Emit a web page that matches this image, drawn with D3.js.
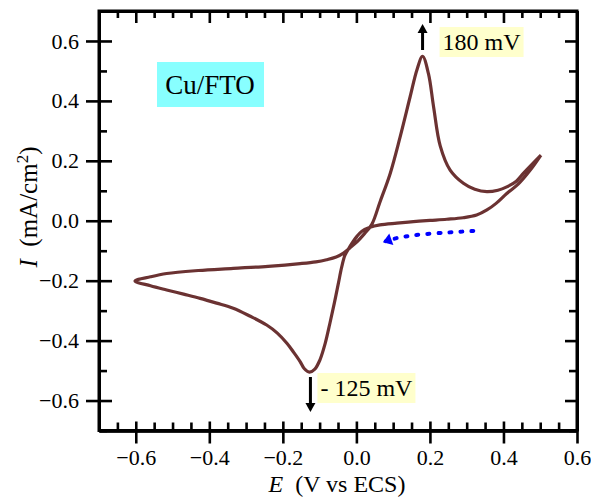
<!DOCTYPE html>
<html>
<head>
<meta charset="utf-8">
<script src="https://cdn.jsdelivr.net/npm/d3@7"></script>
<style>
  html, body { margin: 0; padding: 0; background: #fff; }
  svg { display: block; }
  text { font-family: "Liberation Serif", "Times New Roman", serif; fill: #000; }
</style>
</head>
<body>
<svg id="chart" width="591" height="503"></svg>
<script>
// ---- Data ----
// Cyclic voltammogram: potential E (V vs ECS) and current density I (mA/cm2)
const cvE = [0.502, 0.473, 0.44, 0.409, 0.38, 0.355, 0.327, 0.29, 0.246, 0.2, 0.155, 0.11, 0.064, 0.037, 0.015, 0.001,
  -0.017, -0.031, -0.04, -0.049, -0.06, -0.072, -0.085, -0.099, -0.113, -0.128, -0.142, -0.153, -0.17, -0.189,
  -0.215, -0.244, -0.29, -0.335, -0.38, -0.425, -0.47, -0.516, -0.56, -0.602,
  -0.56, -0.516, -0.43, -0.335, -0.24, -0.153, -0.11, -0.081, -0.055, -0.035, -0.015, 0.005, 0.022, 0.042,
  0.064, 0.092, 0.119, 0.146, 0.165, 0.18, 0.196, 0.21, 0.228, 0.255, 0.291, 0.322, 0.355, 0.385, 0.409, 0.435, 0.454, 0.502];
const cvI = [0.219, 0.169, 0.122, 0.091, 0.058, 0.036, 0.019, 0.01, 0.005, 0.001, -0.003, -0.008, -0.014, -0.022, -0.035, -0.053,
  -0.085, -0.115, -0.155, -0.209, -0.275, -0.342, -0.41, -0.464, -0.495, -0.505, -0.493, -0.47, -0.44, -0.409,
  -0.375, -0.348, -0.318, -0.292, -0.275, -0.259, -0.245, -0.231, -0.217, -0.201,
  -0.187, -0.176, -0.166, -0.159, -0.152, -0.143, -0.137, -0.13, -0.121, -0.108, -0.088, -0.066, -0.043, -0.012,
  0.062, 0.158, 0.28, 0.413, 0.505, 0.549, 0.491, 0.38, 0.25, 0.169, 0.125, 0.105, 0.097, 0.102, 0.113, 0.132, 0.158, 0.219];

// Peak annotations
const peakE = [0.18, -0.125];
const peakLabels = ["180 mV", "- 125 mV"];
const peakDir = ["up", "down"];

// Scan-direction arrow (dotted blue)
const scanE = [0.318, 0.29, 0.25, 0.2, 0.15, 0.11, 0.08];
const scanI = [-0.034, -0.036, -0.039, -0.043, -0.049, -0.057, -0.068];

// Axis ticks
const xMajor = [-0.6, -0.4, -0.2, 0.0, 0.2, 0.4, 0.6];
const xMinor = [-0.65, -0.55, -0.5, -0.45, -0.35, -0.3, -0.25, -0.15, -0.1, -0.05, 0.05, 0.1, 0.15, 0.25, 0.3, 0.35, 0.45, 0.5, 0.55];
const yMajor = [-0.6, -0.4, -0.2, 0.0, 0.2, 0.4, 0.6];
const yMinor = [-0.7, -0.5, -0.3, -0.1, 0.1, 0.3, 0.5, 0.7];

const sampleLabel = "Cu/FTO";

// ---- Layout ----
const L = 99, R = 577, T = 11, B = 430.5;
const x = d3.scaleLinear().domain([-0.7, 0.6]).range([L, R]);
const y = d3.scaleLinear().domain([-0.7, 0.7]).range([B, T]);
const fmt = d3.format(".1f");

const svg = d3.select("#chart");

// ---- Curve ----
const pts = cvE.map((e, i) => [e, cvI[i]]);
const line = d3.line().x(d => x(d[0])).y(d => y(d[1])).curve(d3.curveCatmullRom.alpha(0.5));
svg.append("path").attr("d", line(pts))
  .attr("fill", "none").attr("stroke", "#6b3232").attr("stroke-width", 3.2)
  .attr("stroke-linejoin", "round");

// ---- Axes ----
const axW = 3;
function styleAxis(g) {
  g.attr("font-family", null);
  g.selectAll(".domain").attr("stroke", "#000").attr("stroke-width", axW);
  g.selectAll(".tick line").attr("stroke", "#000").attr("stroke-width", 2.6);
  g.selectAll("text").attr("font-size", 22);
}
// bottom: outer major with labels
svg.append("g").attr("transform", `translate(0,${B})`)
  .call(d3.axisBottom(x).tickValues(xMajor).tickFormat(fmt).tickSize(13).tickSizeOuter(0).tickPadding(6))
  .call(styleAxis);
svg.append("g").attr("transform", `translate(0,${B})`)
  .call(d3.axisBottom(x).tickValues(xMajor).tickFormat("").tickSize(-9).tickSizeOuter(0))
  .call(styleAxis);
svg.append("g").attr("transform", `translate(0,${B})`)
  .call(d3.axisBottom(x).tickValues(xMinor).tickFormat("").tickSize(-8).tickSizeOuter(0))
  .call(styleAxis);
// top
svg.append("g").attr("transform", `translate(0,${T})`)
  .call(d3.axisTop(x).tickValues(xMajor).tickFormat("").tickSize(-12).tickSizeOuter(0))
  .call(styleAxis);
svg.append("g").attr("transform", `translate(0,${T})`)
  .call(d3.axisTop(x).tickValues(xMinor).tickFormat("").tickSize(-7).tickSizeOuter(0))
  .call(styleAxis);
// left
svg.append("g").attr("transform", `translate(${L},0)`)
  .call(d3.axisLeft(y).tickValues(yMajor).tickFormat(fmt).tickSize(13).tickSizeOuter(0).tickPadding(7))
  .call(styleAxis);
svg.append("g").attr("transform", `translate(${L},0)`)
  .call(d3.axisLeft(y).tickValues(yMajor).tickFormat("").tickSize(-13).tickSizeOuter(0))
  .call(styleAxis);
svg.append("g").attr("transform", `translate(${L},0)`)
  .call(d3.axisLeft(y).tickValues(yMinor).tickFormat("").tickSize(-8).tickSizeOuter(0))
  .call(styleAxis);
// right
svg.append("g").attr("transform", `translate(${R},0)`)
  .call(d3.axisRight(y).tickValues(yMajor).tickFormat("").tickSize(-12).tickSizeOuter(0))
  .call(styleAxis);
svg.append("g").attr("transform", `translate(${R},0)`)
  .call(d3.axisRight(y).tickValues(yMinor).tickFormat("").tickSize(-8).tickSizeOuter(0))
  .call(styleAxis);
// frame corners
svg.append("rect").attr("x", L).attr("y", T).attr("width", R - L).attr("height", B - T)
  .attr("fill", "none").attr("stroke", "#000").attr("stroke-width", axW);

// ---- Axis titles ----
const xt = svg.append("text").attr("x", 337).attr("y", 492).attr("text-anchor", "middle").attr("font-size", 24);
xt.append("tspan").attr("font-style", "italic").text("E");
xt.append("tspan").text("\u00a0 (V vs ECS)");

const yt = svg.append("text").attr("transform", "translate(37,207) rotate(-90)")
  .attr("text-anchor", "middle").attr("font-size", 25);
yt.append("tspan").attr("font-style", "italic").text("I");
yt.append("tspan").text("\u00a0 (mA/cm");
yt.append("tspan").attr("font-size", 17).attr("dy", -9).text("2");
yt.append("tspan").attr("dy", 9).text(")");

// ---- Sample label ----
svg.append("rect").attr("x", 157).attr("y", 62).attr("width", 107).attr("height", 45).attr("fill", "#88ffff");
svg.append("text").attr("x", 210).attr("y", 94).attr("text-anchor", "middle").attr("font-size", 27).text(sampleLabel);

// ---- Peak annotations ----
peakE.forEach((e, i) => {
  const px = x(e);
  const up = peakDir[i] === "up";
  const y0 = up ? 50 : 377, y1 = up ? 24 : 412;
  const head = up ? 9 : -9;
  svg.append("line").attr("x1", px).attr("x2", px).attr("y1", y0).attr("y2", y1 + head * 0.8)
    .attr("stroke", "#000").attr("stroke-width", 3);
  svg.append("path")
    .attr("d", `M${px},${y1} L${px - 5},${y1 + head} L${px + 5},${y1 + head} Z`).attr("fill", "#000");
  const bx = up ? px + 17 : px + 7;
  const by = up ? 27 : 373;
  const bg = svg.append("rect").attr("x", bx).attr("y", by).attr("height", 30).attr("fill", "#ffffcc");
  const t = svg.append("text").attr("x", bx + 3).attr("y", up ? 50 : 396).attr("font-size", 24).text(peakLabels[i]);
  const w = t.node().getComputedTextLength();
  bg.attr("width", w + 6);
});

// ---- Scan direction arrow ----
const scanPts = scanE.map((e, i) => [e, scanI[i]]);
const sline = d3.line().x(d => x(d[0])).y(d => y(d[1])).curve(d3.curveBasis);
svg.append("path").attr("d", sline(scanPts)).attr("fill", "none").attr("stroke", "#0000ff")
  .attr("stroke-width", 4).attr("stroke-linecap", "round").attr("stroke-dasharray", "2 9");
{
  const tip = [x(0.072), y(-0.072)];
  const base = [x(0.09), y(-0.064)];
  const dx = base[0] - tip[0], dy = base[1] - tip[1];
  const len = Math.hypot(dx, dy), ux = dx / len, uy = dy / len;
  const bl = 9, hw = 6;
  const bx = tip[0] + ux * bl, by = tip[1] + uy * bl;
  svg.append("path").attr("d",
    `M${tip[0]},${tip[1]} L${bx - uy * hw},${by + ux * hw} L${bx + uy * hw},${by - ux * hw} Z`)
    .attr("fill", "#0000ff");
}
</script>
</body>
</html>
